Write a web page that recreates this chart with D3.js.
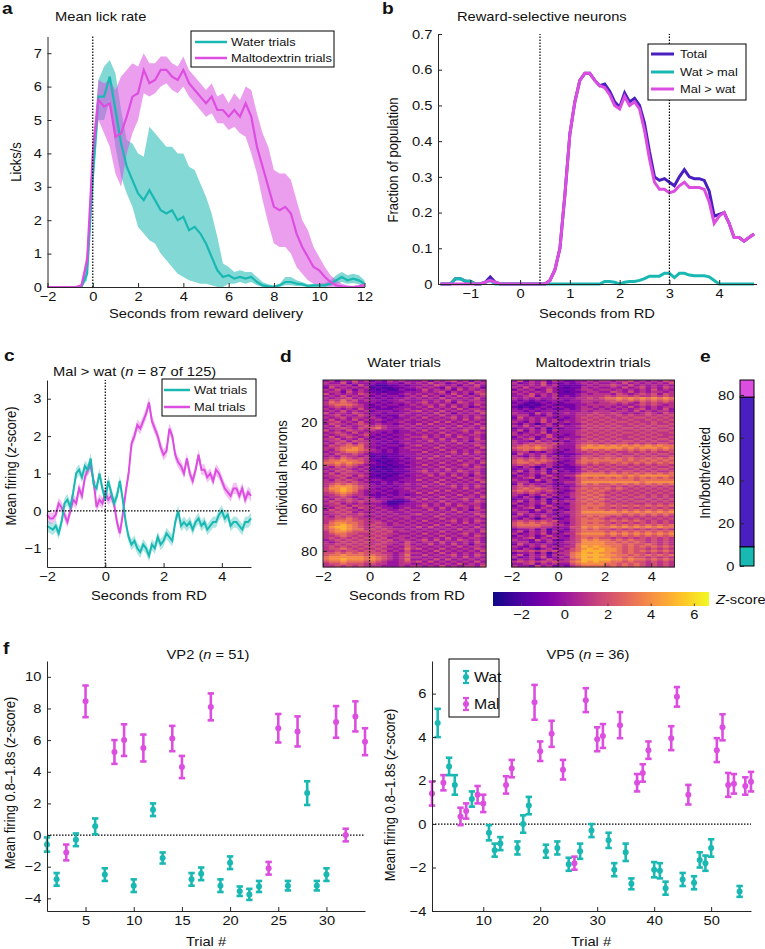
<!DOCTYPE html>
<html><head><meta charset="utf-8">
<script src="https://cdn.jsdelivr.net/npm/d3@7"></script>
<style>body{margin:0;background:#fff} text{font-family:"Liberation Sans",Arial,Helvetica,sans-serif;}</style>
</head><body><svg id="c" width="765" height="949"></svg>
<script>
// ---------------- colours ----------------
const CYAN = "#1ab8b2", MAG = "#dc4ee0", PURP = "#4a1fbf";

// ---------------- panel a data (t = -2..12 step 0.25) ----------------
const aStart = -2, aStep = 0.25;
const waterMean = [0,0,0,0,0,0,0,0.4, 3.3,5.7,5.7,6.3,5.3,4.3,3.6,3.2, 2.8,2.6,2.9,2.6,2.3,2.2,2.3,2.0, 2.1,1.7,1.8,1.6,1.3,0.9,0.5,0.3, 0.35,0.25,0.3,0.25,0.3,0.15,0.05,0.02, 0,0.05,0.15,0.15,0.1,0.08,0.03,0.05, 0.05,0.05,0.1,0.2,0.3,0.2,0.25,0.2, 0.1];
const waterLo = [0,0,0,0,0,0,0,0.2, 2.8,5.0,5.0,5.6,4.2,3.3,2.8,2.4, 1.8,1.6,1.4,1.3,1.0,0.8,0.6,0.4, 0.3,0.2,0.15,0.1,0.1,0.05,0,0, 0.1,0.1,0.15,0.1,0.15,0.05,0,0, 0,0,0.05,0.05,0.03,0.02,0,0, 0,0,0.03,0.08,0.15,0.1,0.12,0.08, 0.02];
const waterHi = [0,0,0,0,0,0,0,0.6, 3.8,6.2,6.6,6.8,6.4,5.3,4.4,4.3, 4.0,3.9,4.8,4.6,4.4,4.2,4.2,4.0, 4.0,3.6,3.5,3.1,2.7,2.2,1.5,0.7, 0.6,0.45,0.5,0.45,0.45,0.3,0.15,0.08, 0.05,0.1,0.3,0.3,0.2,0.15,0.08,0.1, 0.1,0.12,0.2,0.35,0.45,0.35,0.4,0.35, 0.2];
const maltoMean = [0,0,0,0,0,0,0.05,0.8, 4.0,5.6,5.4,5.5,4.5,4.6,5.1,5.7, 5.8,6.5,6.1,6.2,6.5,6.5,6.3,6.2, 6.5,6.1,5.9,5.7,5.5,5.7,5.3,5.3, 5.1,5.3,5.1,5.5,5.1,4.2,3.6,3.0, 2.4,2.3,2.4,2.2,1.6,1.2,0.9,0.6, 0.5,0.3,0.15,0.05,0.02,0,0,0.02, 0.05];
const maltoLo = [0,0,0,0,0,0,0,0.5, 3.6,5.0,4.6,4.2,3.4,3.0,4.0,4.6, 5.0,5.8,5.7,5.8,6.0,6.1,5.9,5.8, 6.0,5.7,5.5,5.3,5.1,5.2,4.9,4.9, 4.7,4.8,4.6,4.5,4.0,3.4,2.6,1.9, 1.3,1.2,1.2,1.0,0.6,0.4,0.2,0.1, 0.05,0.02,0,0,0,0,0,0, 0];
const maltoHi = [0,0,0,0,0,0,0.1,1.1, 4.4,6.2,6.1,6.2,5.9,6.3,6.5,6.7, 6.6,7.0,6.7,6.7,6.9,6.9,6.7,6.6, 6.9,6.5,6.3,6.1,5.9,6.1,5.7,5.8, 5.5,5.8,5.6,6.0,5.9,5.2,4.6,4.2, 3.5,3.4,3.4,3.2,2.6,2.0,1.7,1.2, 0.9,0.6,0.35,0.2,0.1,0.05,0.03,0.06, 0.15];
const aXTicks = [-2,0,2,4,6,8,10,12], aYTicks = [0,1,2,3,4,5,6,7];

// ---------------- panel b data (t = -1.6..4.7 step 0.1) ----------------
const bStart = -1.6, bStep = 0.1;
const bTotal = [0,0,0,0.015,0.015,0.008,0.008,0,0,0.005,0.02,0.005,0,0,0,0, 0,0,0,0,0,0,0.01,0.04,0.1,0.25, 0.42,0.51,0.57,0.59,0.59,0.57,0.555,0.56,0.54,0.51, 0.495,0.535,0.51,0.52,0.50,0.45,0.37,0.30,0.29,0.295, 0.285,0.275,0.30,0.32,0.30,0.295,0.295,0.29,0.26,0.19, 0.195,0.2,0.17,0.13,0.13,0.12,0.13,0.14];
const bWat = [0,0,0,0.015,0.015,0.008,0.008,0,0,0.005,0.01,0,0,0,0,0, 0,0,0,0,0,0,0,0,0,0, 0,0,0,0,0,0,0,0.007,0.007,0.005, 0,0.005,0.007,0.007,0.01,0.015,0.022,0.022,0.022,0.03, 0.03,0.018,0.03,0.03,0.025,0.023,0.023,0.023,0.02,0.01, 0,0,0,0,0,0,0,0];
const bMal = [0,0,0,0,0,0,0,0,0,0.005,0.01,0.005,0,0,0,0, 0,0,0,0,0,0,0.01,0.04,0.1,0.25, 0.42,0.51,0.57,0.59,0.59,0.57,0.555,0.55,0.53,0.50, 0.49,0.525,0.50,0.51,0.49,0.43,0.35,0.285,0.265,0.265, 0.255,0.26,0.275,0.285,0.27,0.27,0.27,0.265,0.23,0.17, 0.19,0.2,0.17,0.13,0.13,0.12,0.13,0.14];
const bXTicks = [-1,0,1,2,3,4], bYTicks = [0,0.1,0.2,0.3,0.4,0.5,0.6,0.7];
const bMarks = [0.4, 3];

// ---------------- panel c data (t = -2..5 step 0.1) ----------------
const cStart = -2, cStep = 0.1, cSem = 0.15;
const cWat = [-0.4,-0.45,-0.5,-0.4,-0.6,-0.3,0.2,0.3,0.1,0.5, 1.0,1.1,0.9,1.2,1.1,1.4,0.7,0.6,1.0,0.6, 0.3,0.8,0.5,0.2,0.4,0.8,0.3,-0.3,-0.7,-0.9, -0.8,-1.0,-1.1,-0.9,-1.0,-1.2,-0.9,-1.0,-0.7,-0.9, -0.8,-0.6,-0.7,-0.8,-0.3,0.0,-0.4,-0.3,-0.4,-0.3, -0.5,-0.3,-0.2,-0.4,-0.3,-0.5,-0.4,-0.3,-0.3,-0.1, 0.0,-0.2,-0.1,-0.4,-0.3,-0.3,-0.4,-0.5,-0.3,-0.3, -0.2];
const cMal = [-0.1,-0.2,-0.2,-0.1,0.2,0.1,-0.1,-0.3,0.0,0.3, 0.2,0.6,0.4,0.9,1.1,1.2,0.8,0.1,0.3,0.2, 0.5,0.3,0.4,0.2,-0.3,-0.6,-0.1,0.5,1.0,1.8, 2.0,2.3,2.2,2.4,2.6,2.9,2.4,2.2,2.0,1.7, 1.5,1.6,2.2,2.0,1.5,1.3,1.2,1.0,1.4,1.0, 0.8,1.1,1.5,1.1,1.1,0.9,1.0,0.8,1.1,1.0, 0.8,0.6,0.5,0.4,0.6,0.6,0.4,0.6,0.3,0.5, 0.4];
const cXTicks = [-2,0,2,4], cYTicks = [-1,0,1,2,3];

// ---------------- panel d data (rows = neurons 1..87, columns = 0.25 s bins from -2 to 5; digit d -> z = d - 3) ----------------
const dStart = -2, dBin = 0.25;
const heatWater = [
"3424353423243433342434534243","4335243332233243435342343534","3443425321122323343543424353","2534343412112233434325343442",
"4353424321211322353434253434","3442534322122233343452434354","5343435432322343434343534245","3435343423233234353424353434",
"4344534332323343434353434353","3546453433233433343435343443","4656543332323343453434254344","4566654323233234344353434353",
"3454544322322333435343534234","4343435332223343343434353443","3435343423332334534353434354","5344354333233343343534243435",
"3453435432322433434353434343","4345344343232334353434534354","3534353434323343434343435343","4453435333233433343535343434",
"3544345434332343535343434353","4353434545433434343434353434","3445435456433343434353434435","5343544343332334353434345343",
"3454353433232333434353434354","4345434532323343343435343443","3534543423232334453434354343","4453435332323343344353434353",
"3445354433232333435343534244","4354535432322343343434353443","3545656433233234534353434354","4456676432322343343534343435",
"4356776543232334434353434343","3445665433232333353434534354","4354454322222333434343435343","3435443412122233343535343434",
"4546545422122323535343434353","5667665421212233343434353434","6676766432122323434353434435","5565654322212233353434345343",
"4354543421121223434353434354","3445434312112233343435343443","4354543421212223453434354343","3535444322121233344353434353",
"4454535421212323435343534244","3445344322122233343434353443","4354543433222333534353434354","4455454322323233343534343435",
"4565654432323343434353434343","4677765433232333353434534354","5778765432323343434343435343","5678764333232334343535343434",
"4567654332322333535343434353","4456544322232323343434353434","3445434432323343434353434435","4354543443332234353434345343",
"3544545444311123434353434354","4453434333211233343435343443","3445354443322333453434354343","4354535434332343344353434353",
"3545443443433434435343534244","4454534334343343343434353443","3445445443434334534353434354","4354544334343443343534343435",
"4455654443434343434353434343","4566655444343434353434534354","4677665445434343434343435343","5678765454434434343535343434",
"5788765445443343535343434353","5678766454544434343434353434","4677655545453443434353434435","4566554454544334353434345343",
"4456545445443443434353434354","4545454554534434343435343443","3454545445453443453534354343","4345454544544354344353434353",
"4454545445443453435343534244","4545454554534354343434353443","4556545445443464534353434354","4454554554534353343534343435",
"5565656555443454434353434343","5667666565543463353434534354","6777777676543454434343435343","6778777676543463343535343434",
"5667666565433454535343434353","4556555454433443343434353434","4454545444333434434353434435"];
const heatMalto = [
"3524342432233434434453434354","4234352323234343343534343435","3434353422223434454353434343","4353434321224343343534534354",
"2434235322234434434343435343","4343435321223443354353434434","3435343422234344435434545354","3345243423234444545545445454",
"4343433433344545667676767676","3232323332334444556565656565","2321232323334434454543545454","3212123222233444443434545434",
"2121232332234343434353434344","3232323223234434343434534353","3323233333334344434435343443","4332534234344454454343454354",
"3442324333344545445454454545","2534343232345454544545545454","3434353423344545454454454545","4324353434345454545545445454",
"3243134232334545454454545445","4353434343345454545445454554","2334241323334545454554545445","3524342433345454545445454554",
"4234352333344545454554545445","4343435332345454545445454544","2434235323334545454454545445","3345243434345454545445454554",
"4332534232344545454554545445","4345454543345554545545454554","4565655433356767676767676766","5666765433357777777676777676",
"4565654332346565656565656565","3442324323344545454454545445","2534343222234454545445454554","4324353432345545554554545445",
"4545454333346565656565565656","5656565432356666666565656565","5665654323356565565656565656","4545434332345454545545454554",
"3243134222234545454454545445","2334241332235454545445454554","3524342423234545454554545445","4234352333346666565656565656",
"2434235334467777777676777776","3345243432356565656565656565","4332534233356666666665666666","3442324334457777777777677777",
"2534343223356565565656565656","4545434332345555545454545454","4565654333456565656545454545","5656545432355656545454545454",
"4545434323456565454545454545","4324353433455656545454545454","3243134232456565454545545454","2334241323355656545454454545",
"3524342434456565454545545454","4234352332455656545454454545","2434235333456666565656565656","3345243423456565545454545454",
"4332534232456666565656565656","3442324334457777776767676767","2534343233456666666565656565","4324353432455656545454545454",
"3243134223456565454545454545","4545454533456666565656545454","5656565432456565545454545454","5666655443456666565656565656",
"4555544333557676676767676766","2334241332456565545454545454","3524342423456666565656565656","4234352334467777676767676767",
"2434235332456666565656565656","3345243433456565545454545454","4332534223457676656565545454","3442324334457777665656545454",
"2534343233467777666565565454","4324353434468787766565656565","3243134243567878776565545454","4545454534568888776565656565",
"2334241344678787766565545454","3524342434678888776656565656","4234352343678787766565545454","2434235334568888877676656565",
"4545454544678787766565545454","3345243433567777665656545454","4332534232456666565656545454"];
const dXTicks = [-2,0,2,4], dYTicks = [20,40,60,80];
const cbTicks = [-2,0,2,4,6];

// ---------------- panel e data ----------------
const eCounts = [9, 70, 8];           // inhibited, both, excited
const eColors = [CYAN, PURP, MAG];
const eTicks = [0,20,40,60,80];

// ---------------- panel f data ----------------
const vp2Trial = [1,2,3,4,5,6,7,8,9,10,11,12,13,14,15,16,17,18,19,20,21,22,23,24,25,26,27,28,29,30,31,32,33,34];
const vp2Type  = ["w","w","m","w","m","w","w","m","m","w","m","w","w","m","m","w","w","m","w","w","w","w","w","m","m","w","m","w","w","w","m","m","m","m"];
const vp2Mean  = [-0.6,-2.8,-1.1,-0.3,8.45,0.55,-2.5,5.25,6.0,-3.2,5.5,1.6,-1.45,6.1,4.3,-2.8,-2.45,8.1,-3.2,-1.75,-3.55,-3.75,-3.25,-2.1,6.75,-3.2,6.55,2.65,-3.2,-2.5,7.15,0.0,7.5,5.9];
const vp2Err   = [0.45,0.4,0.5,0.4,1.0,0.5,0.4,0.75,1.0,0.4,0.85,0.4,0.35,0.8,0.7,0.4,0.4,0.85,0.4,0.4,0.3,0.35,0.35,0.4,0.9,0.3,0.95,0.75,0.3,0.4,1.0,0.4,0.95,0.85];
const vp5Trial = [1,2,3,4,5,6,7,8,9,10,11,12,13,14,15,16,17,18,19,20,21,22,23,24,25,26,27,28,29,30,31,32,33,34,35,36,37,38,39,40,41,42,43,44,45,46,47,48,49,50,51,52,53,54,55,56,57];
const vp5Type  = ["m","w","m","w","w","m","m","w","m","m","w","w","w","m","m","w","w","w","m","m","w","m","w","m","w","m","w","m","w","m","m","w","w","m","w","w","m","m","m","w","w","w","m","m","w","m","w","w","w","w","m","m","m","m","w","m","m"];
const vp5Mean  = [1.4,4.65,1.9,2.65,1.8,0.35,0.6,1.15,1.35,0.95,-0.4,-1.2,-0.9,1.8,2.55,-1.1,0.0,0.85,5.6,3.35,-1.25,4.15,-1.1,2.5,-1.85,-1.8,-1.25,5.7,-0.3,3.9,4.05,-0.75,-2.1,4.55,-1.3,-2.75,1.9,2.35,3.4,-2.1,-2.15,-2.95,3.95,5.85,-2.55,1.35,-2.7,-1.65,-1.8,-1.1,3.4,4.45,1.8,1.85,-3.1,1.75,1.95];
const vp5Err   = [0.55,0.65,0.35,0.4,0.45,0.4,0.35,0.35,0.4,0.4,0.35,0.3,0.3,0.4,0.4,0.3,0.4,0.4,0.8,0.45,0.3,0.6,0.3,0.45,0.3,0.3,0.35,0.55,0.3,0.55,0.55,0.35,0.3,0.6,0.4,0.25,0.4,0.4,0.4,0.35,0.35,0.3,0.55,0.45,0.3,0.45,0.3,0.35,0.35,0.4,0.55,0.6,0.55,0.45,0.25,0.4,0.45];
const vp2XTicks = [5,10,15,20,25,30], vp2YTicks = [-4,-2,0,2,4,6,8,10];
const vp5XTicks = [10,20,30,40,50], vp5YTicks = [-4,-2,0,2,4,6];

// ================= drawing =================
const svg = d3.select("#c");
const AX = "#262626";
const FONT = "'Liberation Sans',Arial,Helvetica,sans-serif";
const SX = 1.13;          // reference text is slightly wider than tall
const FS = 13;            // base font size
const LFS = 11.4;         // legend font size
const fmtNum = d3.format("~g");

function axis(scale, orient, ticks, fmt, tx, ty, opts) {
  opts = opts || {};
  const gen = (orient === "left" ? d3.axisLeft : d3.axisBottom)(scale)
    .tickValues(ticks).tickSizeInner(opts.inner === undefined ? -4 : opts.inner).tickSizeOuter(0).tickPadding(opts.pad || 5)
    .tickFormat(fmt || fmtNum);
  const g = svg.append("g").attr("transform", `translate(${tx},${ty})`).call(gen);
  g.select(".domain").attr("stroke", opts.noDomain ? "none" : AX).attr("stroke-width", 1);
  g.selectAll(".tick line").attr("stroke", AX);
  g.selectAll(".tick text").attr("font-size", FS).attr("fill", "#111").attr("font-family", FONT)
    .attr("transform", `scale(${SX},1)`);
  return g;
}
function text(x, y, s, o) {
  o = o || {};
  const g = svg.append("g").attr("transform", `translate(${x},${y}) scale(${SX},1)` + (o.rot ? " rotate(-90)" : ""));
  const t = g.append("text").attr("font-size", o.size || FS)
    .attr("text-anchor", o.anchor || "start").attr("fill", "#111").attr("font-family", FONT);
  if (o.bold) t.attr("font-weight", "bold");
  if (Array.isArray(s)) s.forEach(p => t.append("tspan").attr("font-style", p[1] ? "italic" : null).text(p[0]));
  else t.text(s);
  return t;
}
function dotted(x1, y1, x2, y2) {
  svg.append("line").attr("x1", x1).attr("y1", y1).attr("x2", x2).attr("y2", y2)
    .attr("stroke", "#000").attr("stroke-width", 1.2).attr("stroke-dasharray", "1.5,1.5");
}
function legendBox(x, y, w, h) {
  svg.append("rect").attr("x", x).attr("y", y).attr("width", w).attr("height", h)
    .attr("fill", "#fff").attr("stroke", "#000").attr("stroke-width", 1);
}
function legendLine(x1, x2, y, col, label, lw, tx) {
  svg.append("line").attr("x1", x1).attr("x2", x2).attr("y1", y).attr("y2", y).attr("stroke", col).attr("stroke-width", lw);
  text(tx, y + 4, label, {size: LFS});
}

// ---------- panel a ----------
{
  const x = d3.scaleLinear().domain([-2, 12]).range([47.5, 364.5]);
  const y = d3.scaleLinear().domain([0, 7.5]).range([287, 36.5]);
  const t = waterMean.map((_, i) => aStart + i * aStep);
  const area = (lo, hi) => d3.area().x((d, i) => x(t[i])).y0((d, i) => y(lo[i])).y1((d, i) => y(hi[i]))(lo);
  const line = arr => d3.line().x((d, i) => x(t[i])).y(d => y(d))(arr);
  svg.append("path").attr("d", area(waterLo, waterHi)).attr("fill", CYAN).attr("fill-opacity", 0.55);
  svg.append("path").attr("d", area(maltoLo, maltoHi)).attr("fill", MAG).attr("fill-opacity", 0.55);
  svg.append("path").attr("d", line(waterMean)).attr("fill", "none").attr("stroke", CYAN).attr("stroke-width", 2.2);
  svg.append("path").attr("d", line(maltoMean)).attr("fill", "none").attr("stroke", MAG).attr("stroke-width", 2.2);
  dotted(x(0), y(0), x(0), y(7.5));
  axis(x, "bottom", aXTicks, null, 0, 287);
  axis(y, "left", aYTicks, null, 47.5, 0);
  text(2, 14, "a", {size: 17, bold: true});
  text(55, 21, "Mean lick rate");
  text(21, 162, "Licks/s", {anchor: "middle", rot: true});
  text(206, 318, "Seconds from reward delivery", {anchor: "middle"});
  legendBox(191, 31, 143, 36);
  legendLine(195, 227, 42, CYAN, "Water trials", 2.5, 231);
  legendLine(195, 227, 58, MAG, "Maltodextrin trials", 2.5, 231);
}

// ---------- panel b ----------
{
  const x = d3.scaleLinear().domain([-1.65, 4.75]).range([438, 756.5]);
  const y = d3.scaleLinear().domain([0, 0.7]).range([284, 34]);
  const t = bTotal.map((_, i) => bStart + i * bStep);
  const line = arr => d3.line().x((d, i) => x(t[i])).y(d => y(d))(arr);
  svg.append("path").attr("d", line(bTotal)).attr("fill", "none").attr("stroke", PURP).attr("stroke-width", 3);
  svg.append("path").attr("d", line(bWat)).attr("fill", "none").attr("stroke", CYAN).attr("stroke-width", 3);
  svg.append("path").attr("d", line(bMal)).attr("fill", "none").attr("stroke", MAG).attr("stroke-width", 3);
  bMarks.forEach(m => dotted(x(m), y(0), x(m), y(0.7)));
  axis(x, "bottom", bXTicks, null, 0, 284);
  axis(y, "left", bYTicks, d => d === 0 ? "0" : d3.format(".1f")(d), 438, 0);
  text(382, 14, "b", {size: 17, bold: true});
  text(457, 21, "Reward-selective neurons");
  text(398, 160, "Fraction of population", {anchor: "middle", rot: true});
  text(597, 318, "Seconds from RD", {anchor: "middle"});
  legendBox(648, 44, 98, 56);
  legendLine(651, 674, 54, PURP, "Total", 3, 680);
  legendLine(651, 674, 72, CYAN, "Wat > mal", 3, 680);
  legendLine(651, 674, 89, MAG, "Mal > wat", 3, 680);
}

// ---------- panel c ----------
{
  const x = d3.scaleLinear().domain([-2, 5]).range([47, 251]);
  const y = d3.scaleLinear().domain([-1.5, 3.5]).range([567, 380]);
  const t = cWat.map((_, i) => cStart + i * cStep);
  const area = arr => d3.area().x((d, i) => x(t[i])).y0(d => y(d - cSem)).y1(d => y(d + cSem))(arr);
  const line = arr => d3.line().x((d, i) => x(t[i])).y(d => y(d))(arr);
  svg.append("path").attr("d", area(cMal)).attr("fill", MAG).attr("fill-opacity", 0.35);
  svg.append("path").attr("d", area(cWat)).attr("fill", CYAN).attr("fill-opacity", 0.35);
  svg.append("path").attr("d", line(cMal)).attr("fill", "none").attr("stroke", MAG).attr("stroke-width", 2);
  svg.append("path").attr("d", line(cWat)).attr("fill", "none").attr("stroke", CYAN).attr("stroke-width", 2);
  dotted(x(-2), y(0), x(5), y(0));
  dotted(x(0), y(-1.5), x(0), y(3.5));
  axis(x, "bottom", cXTicks, null, 0, 567);
  axis(y, "left", cYTicks, null, 47, 0);
  text(4, 361, "c", {size: 17, bold: true});
  text(53, 376, [["Mal > wat ("], ["n", true], [" = 87 of 125)"]]);
  text(16, 466, [["Mean firing ("], ["z", true], ["-score)"]], {anchor: "middle", rot: true});
  text(149, 600, "Seconds from RD", {anchor: "middle"});
  legendBox(162, 379, 94, 37);
  legendLine(164, 190, 390, CYAN, "Wat trials", 2.5, 194);
  legendLine(164, 190, 407, MAG, "Mal trials", 2.5, 194);
}

// ---------- panel d ----------
{
  const col = d3.scaleSequential(d3.interpolatePlasma).domain([-3.3, 6.7]);
  const y = d3.scaleLinear().domain([0.5, 87.5]).range([380, 567]);
  const drawHeat = (data, x0, x1, withY) => {
    const x = d3.scaleLinear().domain([-2, 5]).range([x0, x1]);
    const g = svg.append("g");
    data.forEach((row, r) => {
      row.split("").forEach((ch, c) => {
        const t0 = dStart + c * dBin;
        g.append("rect").attr("x", x(t0)).attr("y", y(r + 0.5))
          .attr("width", x(t0 + dBin) - x(t0) + 0.4).attr("height", y(r + 1.5) - y(r + 0.5) + 0.4)
          .attr("fill", col(+ch - 3));
      });
    });
    dotted(x(0), y(0.5), x(0), y(87.5));
    svg.append("rect").attr("x", x0).attr("y", 380).attr("width", x1 - x0).attr("height", 187)
      .attr("fill", "none").attr("stroke", AX).attr("stroke-width", 1);
    axis(x, "bottom", dXTicks, null, 0, 567, {noDomain: true});
    if (withY) axis(y, "left", dYTicks, null, x0, 0, {noDomain: true});
  };
  drawHeat(heatWater, 323, 486, true);
  drawHeat(heatMalto, 511.5, 674.5, false);
  text(280, 362, "d", {size: 17, bold: true});
  text(404, 367, "Water trials", {anchor: "middle"});
  text(593, 367, "Maltodextrin trials", {anchor: "middle"});
  text(287, 473, "Individual neurons", {anchor: "middle", rot: true});
  text(407, 600, "Seconds from RD", {anchor: "middle"});
  // colour bar
  const cb = d3.scaleLinear().domain([-3.3, 6.7]).range([493, 709]);
  const defs = svg.append("defs");
  const grad = defs.append("linearGradient").attr("id", "plasma");
  d3.range(0, 1.0001, 0.05).forEach(p => grad.append("stop").attr("offset", p).attr("stop-color", d3.interpolatePlasma(p)));
  svg.append("rect").attr("x", 493).attr("y", 592).attr("width", 216).attr("height", 14).attr("fill", "url(#plasma)");
  const cbg = axis(cb, "bottom", cbTicks, null, 0, 606, {noDomain: true, inner: -2.5, pad: 4});
  cbg.selectAll(".tick line").attr("stroke", "#444");
  text(716, 604, [["Z", true], ["-score"]]);
}

// ---------- panel e ----------
{
  const y = d3.scaleLinear().domain([0, 87]).range([566, 380]);
  let acc = 0;
  eCounts.forEach((n, i) => {
    svg.append("rect").attr("x", 740).attr("y", y(acc + n)).attr("width", 14).attr("height", y(acc) - y(acc + n))
      .attr("fill", eColors[i]).attr("stroke", "#000").attr("stroke-width", 1);
    acc += n;
  });
  axis(y, "left", eTicks, null, 740, 0, {noDomain: true});
  text(700, 362, "e", {size: 17, bold: true});
  text(710, 473, "Inh/both/excited", {anchor: "middle", rot: true});
}

// ---------- panel f ----------
function errPlot(trial, type, mean, err, xr, yd, yr, xt, yt, capW) {
  const x = d3.scaleLinear().domain(xr[0]).range(xr[1]);
  const y = d3.scaleLinear().domain(yd).range(yr);
  dotted(x(xr[0][0]), y(0), x(xr[0][1]), y(0));
  const g = svg.append("g");
  trial.forEach((tr, i) => {
    const c = type[i] === "w" ? CYAN : MAG;
    const cx = x(tr), lo = y(mean[i] - err[i]), hi = y(mean[i] + err[i]);
    g.append("line").attr("x1", cx).attr("x2", cx).attr("y1", lo).attr("y2", hi).attr("stroke", c).attr("stroke-width", 2.6);
    [lo, hi].forEach(v => g.append("line").attr("x1", cx - capW).attr("x2", cx + capW).attr("y1", v).attr("y2", v).attr("stroke", c).attr("stroke-width", 2.6));
    g.append("circle").attr("cx", cx).attr("cy", y(mean[i])).attr("r", 3).attr("fill", c);
  });
  axis(x, "bottom", xt, null, 0, yr[0]);
  axis(y, "left", yt, null, xr[1][0], 0);
  return {x, y};
}
errPlot(vp2Trial, vp2Type, vp2Mean, vp2Err, [[1, 34], [47, 365]], [-4.8, 11], [911, 661], vp2XTicks, vp2YTicks, 3.2);
errPlot(vp5Trial, vp5Type, vp5Mean, vp5Err, [[1, 57], [432, 751]], [-4, 7.5], [911, 661], vp5XTicks, vp5YTicks, 3.2);
text(3, 654, "f", {size: 17, bold: true});
text(208, 659, [["VP2 ("], ["n", true], [" = 51)"]], {anchor: "middle"});
text(588, 659, [["VP5 ("], ["n", true], [" = 36)"]], {anchor: "middle"});
text(15, 783, [["Mean firing 0.8–1.8s ("], ["z", true], ["-score)"]], {anchor: "middle", rot: true});
text(395, 795, [["Mean firing 0.8–1.8s ("], ["z", true], ["-score)"]], {anchor: "middle", rot: true});
text(206, 946, "Trial #", {anchor: "middle"});
text(591, 946, "Trial #", {anchor: "middle"});
// VP5 legend
legendBox(449, 659, 50, 58);
[[677, CYAN, "Wat"], [704, MAG, "Mal"]].forEach(([yy, c, lab]) => {
  svg.append("line").attr("x1", 466).attr("x2", 466).attr("y1", yy - 6).attr("y2", yy + 6).attr("stroke", c).attr("stroke-width", 2.2);
  [yy - 6, yy + 6].forEach(v => svg.append("line").attr("x1", 463).attr("x2", 469).attr("y1", v).attr("y2", v).attr("stroke", c).attr("stroke-width", 2.2));
  svg.append("circle").attr("cx", 466).attr("cy", yy).attr("r", 3).attr("fill", c);
  text(474, yy + 5, lab, {size: 14});
});
</script></body></html>
